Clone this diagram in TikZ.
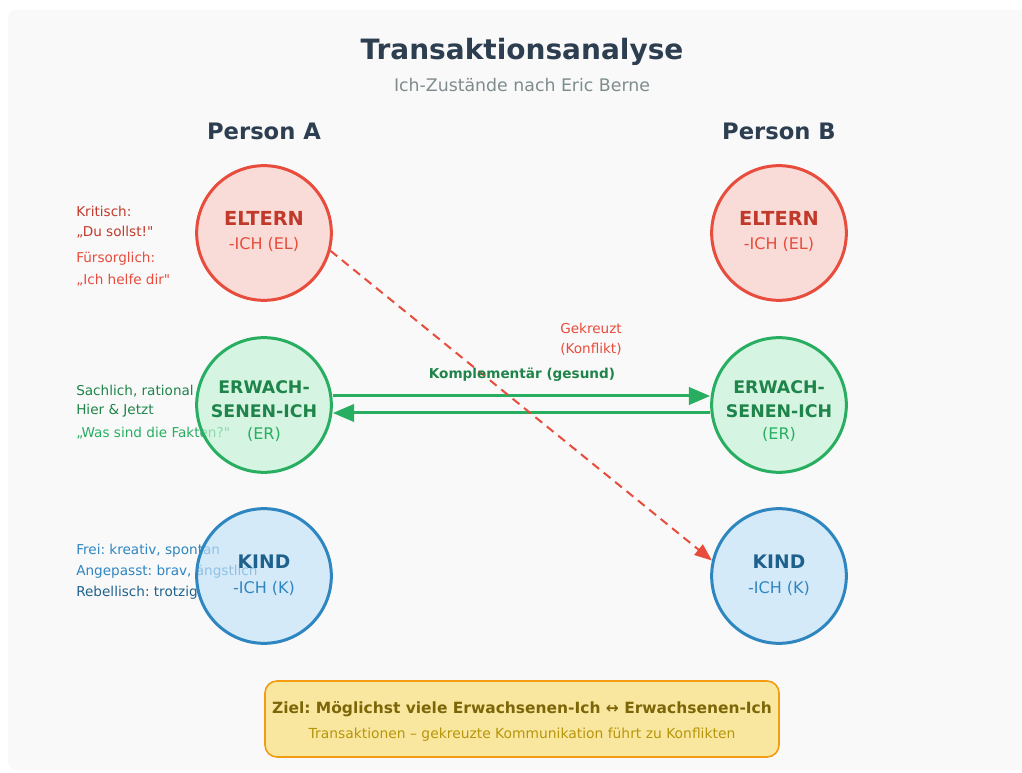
\documentclass[tikz,border=0pt]{standalone}
\usepackage{fontspec}
\setmainfont{DejaVu Sans}[Ligatures=TeXOff]
\usetikzlibrary{arrows.meta}
\definecolor{redline}{HTML}{E74C3C}
\definecolor{reddark}{HTML}{C0392B}
\definecolor{redfill}{HTML}{FACBC6}
\definecolor{greenline}{HTML}{27AE60}
\definecolor{greendark}{HTML}{1E8449}
\definecolor{greenfill}{HTML}{C2F3D7}
\definecolor{blueline}{HTML}{2E86C1}
\definecolor{bluedark}{HTML}{1F618D}
\definecolor{bluefill}{HTML}{C3E2F8}
\definecolor{titlecol}{HTML}{2C3E50}
\definecolor{graytxt}{HTML}{7F8C8D}
\definecolor{boxfill}{HTML}{F9E79F}
\definecolor{boxline}{HTML}{F39C12}
\definecolor{boxdark}{HTML}{7D6608}
\definecolor{boxtxt}{HTML}{B7950B}
\definecolor{bggray}{HTML}{F9F9F9}

\begin{document}
\frenchspacing
\begin{tikzpicture}[x=0.75pt,y=0.75pt,yscale=-1,xscale=1,
  egostate/.style={circle, line width=2.25pt, minimum size=101pt, inner sep=0pt, fill opacity=0.65, draw opacity=1},
  sidetxt/.style={anchor=west, inner sep=0.75pt, font=\fontsize{10.2}{12}\selectfont},
  headtxt/.style={inner sep=0.75pt, font=\fontsize{13}{15}\bfseries\selectfont},
  subtxt/.style={inner sep=0.75pt, font=\fontsize{12}{14}\selectfont}]
\useasboundingbox (0,0) rectangle (1022,773);
%Background
\fill [white] (0,0) rectangle (1022,773);
\fill [bggray, rounded corners=6pt] (8,10) rectangle (1030,770);

% Title
\node (title) at (522,52) [inner sep=0.75pt, text=titlecol, font=\fontsize{21}{24}\bfseries\selectfont] {Transaktionsanalyse};
\node (subtitle) at (522,85) [inner sep=0.75pt, text=graytxt, font=\fontsize{13}{15}\selectfont] {Ich-Zustände nach Eric Berne};
\node (persA) at (264,131) [inner sep=0.75pt, text=titlecol, font=\fontsize{17}{20}\bfseries\selectfont] {Person A};
\node (persB) at (779,131) [inner sep=0.75pt, text=titlecol, font=\fontsize{17}{20}\bfseries\selectfont] {Person B};

% Side notes Person A
\node (elt1) at (75,211) [sidetxt, text=reddark] {Kritisch:};
\node (elt2) at (75,232) [sidetxt, text=reddark] {„Du sollst!"};
\node (elt3) at (75,259) [sidetxt, text=redline] {Fürsorglich:};
\node (elt4) at (75,280) [sidetxt, text=redline] {„Ich helfe dir"};
\node (er1) at (75,391) [sidetxt, text=greendark] {Sachlich, rational};
\node (er2) at (75,411) [sidetxt, text=greendark] {Hier \& Jetzt};
\node (er3) at (75,433) [sidetxt, text=greenline] {„Was sind die Fakten?"};
\node (kind1) at (75,551) [sidetxt, text=blueline] {Frei: kreativ, spontan};
\node (kind2) at (75,572) [sidetxt, text=blueline] {Angepasst: brav, ängstlich};
\node (kind3) at (75,593) [sidetxt, text=bluedark] {Rebellisch: trotzig};

% Ego states
\node (eltA) at (264,233) [egostate, draw=redline, fill=redfill] {};
\node (erA) at (264,405) [egostate, draw=greenline, fill=greenfill] {};
\node (kindA) at (264,576) [egostate, draw=blueline, fill=bluefill] {};
\node (eltB) at (779,233) [egostate, draw=redline, fill=redfill] {};
\node (erB) at (779,405) [egostate, draw=greenline, fill=greenfill] {};
\node (kindB) at (779,576) [egostate, draw=blueline, fill=bluefill] {};

% Text Node
\foreach \cx/\p in {264/A,779/B}{
  \node (eltT\p) at (\cx,218) [headtxt, text=reddark, font=\fontsize{14.5}{16}\bfseries\selectfont] {ELTERN};
  \node (eltS\p) at (\cx,244) [subtxt, text=redline] {-ICH (EL)};
  \node (erT\p) at (\cx,387) [headtxt, text=greendark] {ERWACH-};
  \node (erU\p) at (\cx,411) [headtxt, text=greendark] {SENEN-ICH};
  \node (erS\p) at (\cx,434) [subtxt, text=greenline] {(ER)};
  \node (kindT\p) at (\cx,562) [headtxt, text=bluedark, font=\fontsize{14}{16}\bfseries\selectfont] {KIND};
  \node (kindS\p) at (\cx,588) [subtxt, text=blueline] {-ICH (K)};
}

% Transactions
\draw [greenline, line width=2.25pt, -{Triangle[length=16pt,width=13pt]}] (erA.east |- 0,396) -- (erB.west |- 0,396);
\draw [greenline, line width=2.25pt, -{Triangle[length=16pt,width=13pt]}] (erB.west |- 0,413) -- (erA.east |- 0,413);
\draw [redline, line width=1.5pt, dash pattern=on 6.5pt off 4.5pt, -{Triangle[length=13pt,width=10pt]}] (eltA.-15) -- (kindB.167);

\node (kompl) at (522,375) [inner sep=0.75pt, text=greendark, font=\fontsize{10.2}{12}\bfseries\selectfont] {Komplementär (gesund)};
\node (gekr1) at (559,328) [sidetxt, text=redline] {Gekreuzt};
\node (gekr2) at (559,349) [sidetxt, text=redline] {(Konflikt)};

% Goal box
\draw [fill=boxfill, draw=boxline, line width=1.2pt, rounded corners=9pt] (265,681) rectangle (779,757);
\node (goal) at (522,709) [inner sep=0.75pt, text=boxdark, font=\fontsize{11.6}{13}\bfseries\selectfont] {Ziel: Möglichst viele Erwachsenen-Ich ↔ Erwachsenen-Ich};
\node (goalsub) at (522,735) [inner sep=0.75pt, text=boxtxt, font=\fontsize{10.4}{12}\selectfont] {Transaktionen – gekreuzte Kommunikation führt zu Konflikten};
\end{tikzpicture}
\end{document}
